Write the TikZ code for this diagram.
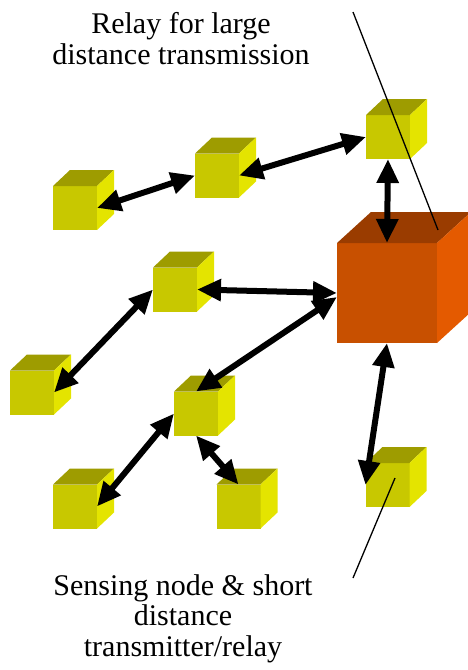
\documentclass[tikz,border=0pt]{standalone}
\usepackage{fontspec}
\setmainfont{Liberation Serif}
\usetikzlibrary{arrows.meta,calc}
\definecolor{yfront}{HTML}{C8C800}
\definecolor{ytop}{HTML}{9E9C00}
\definecolor{yside}{HTML}{E4E400}
\definecolor{ofront}{HTML}{C85000}
\definecolor{otop}{HTML}{9A3C00}
\definecolor{oside}{HTML}{E45A00}
\newcommand\smallcube[3]{%
  \node[face,minimum size=44pt,fill=yfront] (#1) at (#2,#3) {};
  \fill[ytop] (#1.north west) -- ++(17,-16) -- ($(#1.north east)+(17,-16)$) -- (#1.north east) -- cycle;
  \fill[yside] (#1.north east) -- ++(17,-16) -- ($(#1.south east)+(17,-16)$) -- (#1.south east) -- cycle;
}
\begin{document}
\begin{tikzpicture}[x=1pt,y=-1pt,
  face/.style={rectangle,inner sep=0pt,outer sep=0pt,draw=none},
  link/.style={line width=6pt,{Triangle[length=24pt,width=21pt]}-{Triangle[length=24pt,width=21pt]}},
  pointer/.style={line width=1.3pt},
  lbl/.style={font=\fontsize{30}{30.5}\selectfont,align=center,inner sep=0pt,anchor=north}]
\useasboundingbox (0,0) rectangle (467,670);
% small cubes
\smallcube{A}{75}{208}
\smallcube{B}{217}{175.5}
\smallcube{C}{388}{137}
\smallcube{D}{175}{289.5}
\smallcube{E}{32}{392.5}
\smallcube{F}{196}{413.5}
\smallcube{G}{238.5}{506.5}
\smallcube{H}{75}{506.5}
\smallcube{I}{387.5}{485}
% big relay cube
\node[face,minimum size=100pt,fill=ofront] (R) at (387,293) {};
\fill[otop] (R.north west) -- ++(34,-31) -- ($(R.north east)+(34,-31)$) -- (R.north east) -- cycle;
\fill[oside] (R.north east) -- ++(34,-31) -- ($(R.south east)+(34,-31)$) -- (R.south east) -- cycle;
% links
\draw[link] (A.east) -- (B.west);
\draw[link] (B.east) -- (C.west);
\draw[link] (C.south) -- (R.north);
\draw[link] (D.east) -- (R.west);
\draw[link] (F.north) -- ($(R.west)+(0,4)$);
\draw[link] (D.west) -- (E.east);
\draw[link] (F.west) -- (H.east);
\draw[link] (F.south) -- (G.north);
\draw[link] (R.south) -- (I.west);
% pointer lines
\coordinate (t1) at (353,12);
\coordinate (t2) at ($(R.north east)+(1,-13)$);
\draw[pointer] (t1) -- (t2);
\coordinate (b1) at ($(I.center)+(7.5,-7)$);
\coordinate (b2) at (353,578);
\draw[pointer] (b1) -- (b2);
% labels
\node[lbl] (top) at (181,12.5) {Relay for large\\distance transmission};
\node[lbl] (bot) at (183,574) {Sensing node \& short\\distance\\transmitter/relay};
\end{tikzpicture}
\end{document}
